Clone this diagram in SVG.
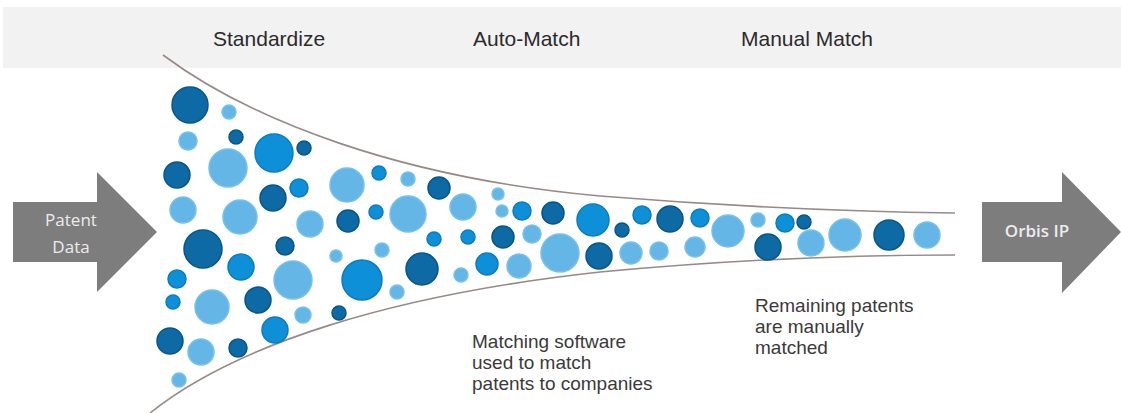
<svg xmlns="http://www.w3.org/2000/svg" width="1121" height="413" viewBox="0 0 1121 413">
<style>
.hdr{font-family:"Liberation Sans",Arial,sans-serif;font-size:21px;fill:#2b2b2b}
.note{font-family:"Liberation Sans",Arial,sans-serif;font-size:19px;fill:#3a3a3a}
.arr{fill:#7d7d7d}
.atxt{font-family:"Open Sans","Noto Sans",sans-serif;font-size:17px;fill:#ececec;text-anchor:middle}
.funnel{fill:none;stroke:#958a86;stroke-width:1.6}
.d{fill:#0d6aa5;stroke:#0a5587;stroke-width:1.5}
.m{fill:#0e90d8;stroke:#0b7cbf;stroke-width:1.5}
.l{fill:#63b6e6;stroke:#78c0ea;stroke-width:1.5}
</style>
<rect width="1121" height="413" fill="#ffffff"/>
<g id="header">
<rect x="3" y="7" width="1118" height="61" fill="#f2f2f2"/>
<text class="hdr" x="213" y="46">Standardize</text>
<text class="hdr" x="473" y="46">Auto-Match</text>
<text class="hdr" x="741" y="46">Manual Match</text>
</g>
<g id="connectors">
<path class="funnel" d="M163,55 C250,120 400,178 600,196 C760,209 880,212 955,213"/>
<path class="funnel" d="M150,413 C235,345 390,295 600,272 C760,257 880,255 955,255"/>
</g>
<g id="patent-data">
<polygon class="arr" points="13,202 97,202 97,172 157,232 97,292 97,262 13,262"/>
<text class="atxt" x="71" y="226">Patent</text>
<text class="atxt" x="71" y="253">Data</text>
</g>
<g id="orbis-ip">
<polygon class="arr" points="982,202 1062,202 1062,172 1121,232 1062,293 1062,262 982,262"/>
<text class="atxt" x="1037" y="237" font-weight="600">Orbis IP</text>
</g>
<g id="patents">
<circle class="d" cx="190" cy="105" r="18"/>
<circle class="l" cx="229" cy="112" r="7"/>
<circle class="l" cx="188" cy="141" r="9"/>
<circle class="d" cx="236" cy="137" r="7"/>
<circle class="m" cx="274" cy="153" r="19"/>
<circle class="d" cx="304" cy="148" r="7"/>
<circle class="d" cx="177" cy="175" r="13"/>
<circle class="l" cx="228" cy="168" r="19"/>
<circle class="d" cx="273" cy="198" r="13"/>
<circle class="m" cx="299" cy="188" r="9"/>
<circle class="l" cx="347" cy="185" r="17"/>
<circle class="m" cx="379" cy="173" r="7"/>
<circle class="l" cx="408" cy="179" r="7"/>
<circle class="d" cx="439" cy="188" r="11"/>
<circle class="l" cx="183" cy="210" r="13"/>
<circle class="l" cx="240" cy="217" r="17"/>
<circle class="l" cx="310" cy="224" r="13"/>
<circle class="d" cx="348" cy="221" r="11"/>
<circle class="m" cx="376" cy="212" r="7"/>
<circle class="l" cx="408" cy="214" r="18"/>
<circle class="l" cx="463" cy="207" r="13"/>
<circle class="l" cx="498" cy="194" r="6"/>
<circle class="l" cx="502" cy="211" r="6"/>
<circle class="m" cx="522" cy="211" r="9"/>
<circle class="d" cx="553" cy="213" r="11"/>
<circle class="m" cx="593" cy="220" r="16"/>
<circle class="d" cx="622" cy="230" r="7"/>
<circle class="m" cx="642" cy="215" r="9"/>
<circle class="d" cx="670" cy="219" r="13"/>
<circle class="m" cx="700" cy="218" r="9"/>
<circle class="l" cx="728" cy="231" r="16"/>
<circle class="l" cx="758" cy="220" r="7"/>
<circle class="m" cx="785" cy="223" r="9"/>
<circle class="d" cx="804" cy="222" r="7"/>
<circle class="d" cx="768" cy="247" r="13"/>
<circle class="l" cx="811" cy="243" r="13"/>
<circle class="l" cx="845" cy="235" r="16"/>
<circle class="d" cx="889" cy="235" r="15"/>
<circle class="l" cx="927" cy="235" r="13"/>
<circle class="d" cx="203" cy="249" r="19"/>
<circle class="d" cx="285" cy="246" r="9"/>
<circle class="l" cx="336" cy="256" r="6"/>
<circle class="l" cx="382" cy="250" r="7"/>
<circle class="m" cx="434" cy="239" r="7"/>
<circle class="m" cx="468" cy="237" r="7"/>
<circle class="d" cx="503" cy="237" r="11"/>
<circle class="l" cx="532" cy="234" r="9"/>
<circle class="l" cx="560" cy="253" r="19"/>
<circle class="d" cx="599" cy="256" r="13"/>
<circle class="l" cx="631" cy="253" r="11"/>
<circle class="l" cx="659" cy="251" r="9"/>
<circle class="l" cx="695" cy="247" r="10"/>
<circle class="m" cx="241" cy="267" r="13"/>
<circle class="m" cx="177" cy="279" r="9"/>
<circle class="l" cx="293" cy="280" r="19"/>
<circle class="m" cx="362" cy="280" r="20"/>
<circle class="d" cx="422" cy="269" r="16"/>
<circle class="l" cx="461" cy="275" r="7"/>
<circle class="m" cx="487" cy="264" r="11"/>
<circle class="l" cx="519" cy="266" r="12"/>
<circle class="m" cx="173" cy="302" r="7"/>
<circle class="l" cx="212" cy="307" r="17"/>
<circle class="d" cx="258" cy="300" r="13"/>
<circle class="l" cx="303" cy="315" r="8"/>
<circle class="d" cx="339" cy="313" r="7"/>
<circle class="l" cx="397" cy="292" r="7"/>
<circle class="m" cx="275" cy="330" r="13"/>
<circle class="d" cx="170" cy="341" r="13"/>
<circle class="l" cx="201" cy="352" r="13"/>
<circle class="d" cx="238" cy="348" r="9"/>
<circle class="l" cx="179" cy="380" r="7"/>
</g>
<g id="auto-note">
<text class="note" x="472" y="348">Matching software</text>
<text class="note" x="472" y="369">used to match</text>
<text class="note" x="472" y="390">patents to companies</text>
</g>
<g id="manual-note">
<text class="note" x="755" y="312">Remaining patents</text>
<text class="note" x="755" y="333">are manually</text>
<text class="note" x="755" y="354">matched</text>
</g>
</svg>
